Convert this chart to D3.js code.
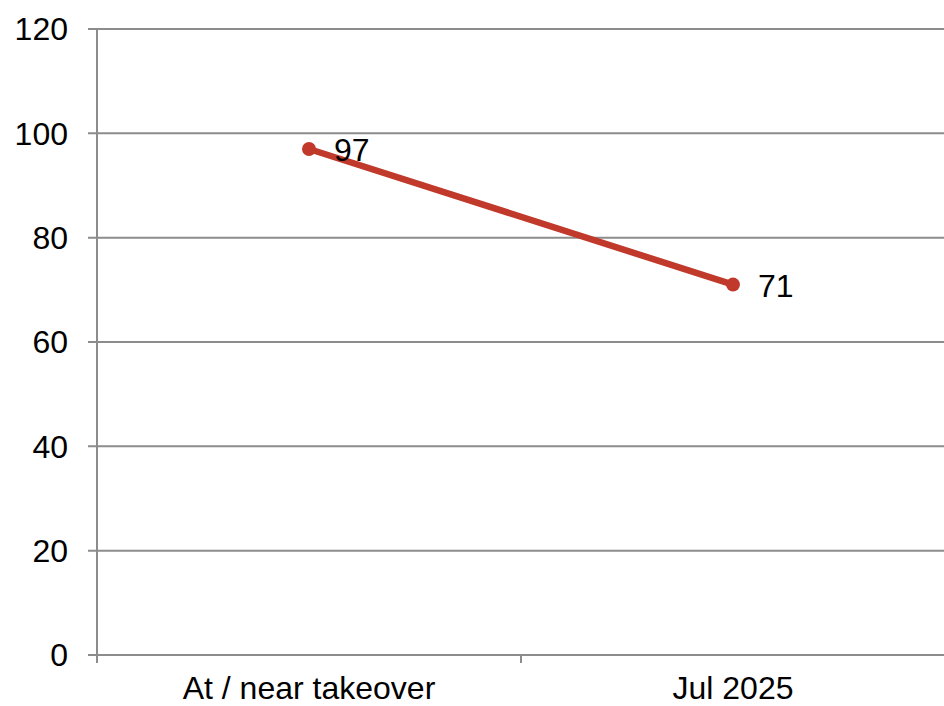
<!DOCTYPE html>
<html>
<head>
<meta charset="utf-8">
<script src="https://cdn.jsdelivr.net/npm/d3@7"></script>
<style>
  html, body { margin: 0; padding: 0; background: #fff; }
  svg { display: block; font-family: "Liberation Sans", Arial, sans-serif; }
</style>
</head>
<body>
<svg id="chart" width="944" height="706"></svg>
<script>
// Series data
const categories = ["At / near takeover", "Jul 2025"];
const values = [97, 71];
const yTicks = [0, 20, 40, 60, 80, 100, 120];

const W = 944, H = 706;
const margin = { left: 97, right: -1, top: 29, bottom: 51 };
const svg = d3.select("#chart");

const x = d3.scaleBand()
  .domain(categories)
  .range([margin.left, W - margin.right])
  .paddingInner(0).paddingOuter(0);

const y = d3.scaleLinear()
  .domain([0, 120])
  .range([H - margin.bottom, margin.top]);

const gridColor = "#8c8c8c";
const fontSize = 32;

// Horizontal gridlines
svg.append("g")
  .selectAll("line")
  .data(yTicks)
  .join("line")
  .attr("x1", margin.left - 9)
  .attr("x2", W)
  .attr("y1", d => y(d))
  .attr("y2", d => y(d))
  .attr("stroke", gridColor)
  .attr("stroke-width", 2);

// Y axis line
svg.append("line")
  .attr("x1", margin.left).attr("x2", margin.left)
  .attr("y1", y(120)).attr("y2", y(0) + 8)
  .attr("stroke", gridColor).attr("stroke-width", 2);

// Category boundary ticks on x axis
const bounds = categories.slice(1).map(c => x(c));
svg.append("g")
  .selectAll("line")
  .data(bounds)
  .join("line")
  .attr("x1", d => d).attr("x2", d => d)
  .attr("y1", y(0)).attr("y2", y(0) + 8)
  .attr("stroke", gridColor).attr("stroke-width", 2);

// Y tick labels
svg.append("g")
  .selectAll("text")
  .data(yTicks)
  .join("text")
  .attr("x", 68)
  .attr("y", d => y(d))
  .attr("dy", "0.35em")
  .attr("text-anchor", "end")
  .attr("font-size", fontSize)
  .attr("fill", "#000")
  .text(d => d);

// X category labels
svg.append("g")
  .selectAll("text")
  .data(categories)
  .join("text")
  .attr("x", d => x(d) + x.bandwidth() / 2)
  .attr("y", 699)
  .attr("text-anchor", "middle")
  .attr("font-size", fontSize)
  .attr("fill", "#000")
  .text(d => d);

const pts = categories.map((c, i) => ({ c, v: values[i] }));
const lineColor = "#c0392b";

// Series line
svg.append("path")
  .datum(pts)
  .attr("fill", "none")
  .attr("stroke", lineColor)
  .attr("stroke-width", 6.5)
  .attr("d", d3.line()
    .x(d => x(d.c) + x.bandwidth() / 2)
    .y(d => y(d.v)));

// Markers
svg.append("g")
  .selectAll("circle")
  .data(pts)
  .join("circle")
  .attr("cx", d => x(d.c) + x.bandwidth() / 2)
  .attr("cy", d => y(d.v))
  .attr("r", 7)
  .attr("fill", lineColor);

// Value labels
svg.append("g")
  .selectAll("text")
  .data(pts)
  .join("text")
  .attr("x", d => x(d.c) + x.bandwidth() / 2 + 25)
  .attr("y", d => y(d.v) + 1)
  .attr("dy", "0.35em")
  .attr("font-size", fontSize)
  .attr("fill", "#000")
  .text(d => d.v);
</script>
</body>
</html>
